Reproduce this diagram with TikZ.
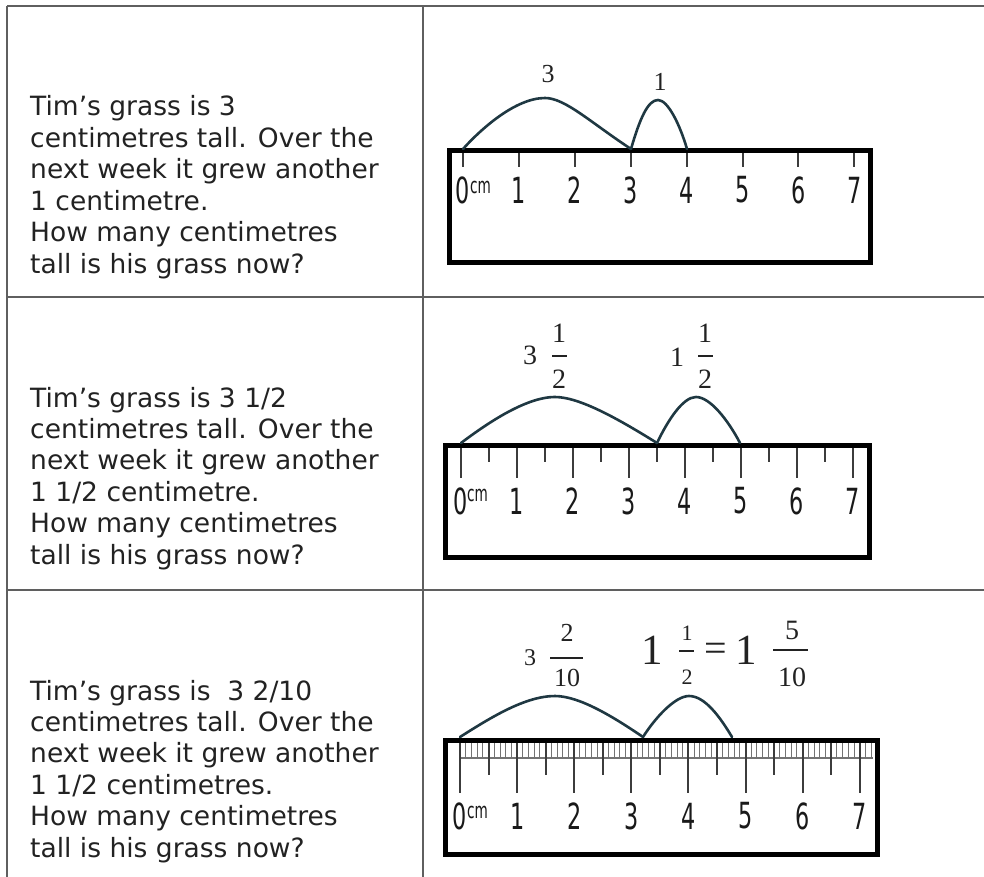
\documentclass[tikz,border=0pt]{standalone}
\usepackage{fontspec}
\newfontfamily\verd{DejaVu Sans}
\newfontfamily\rul[FakeStretch=0.62]{DejaVu Sans}
\newfontfamily\labfont{Liberation Serif}
\definecolor{gridcol}{HTML}{5F5F5F}
\definecolor{txtcol}{HTML}{222222}
\definecolor{arccol}{HTML}{1F3842}
\definecolor{tickcol}{HTML}{3C3C3C}
\tikzset{
  gridline/.style={draw=gridcol, line width=1.6pt},
  qtext/.style={anchor=base west, inner sep=0pt, font=\verd\fontsize{26.5}{32}\selectfont, text=txtcol},
  rulerbox/.style={draw=black, line width=5pt},
  majortick/.style={draw=tickcol, line width=2pt},
  mmtick/.style={draw=black!55, line width=0.9pt},
  rnum/.style={inner sep=0pt, font=\rul\fontsize{36}{36}\selectfont, text=black!90},
  cmlab/.style={inner sep=0pt, anchor=north west, font=\rul\fontsize{22}{22}\selectfont, text=black!90},
  hop/.style={draw=arccol, line width=2.6pt, line cap=round, line join=round},
  lab/.style={inner sep=0pt, text=txtcol},
  fbar/.style={draw=txtcol, line width=1.3pt},
}
\begin{document}
\begin{tikzpicture}[x=1pt,y=-1pt]
\useasboundingbox (0,0) rectangle (984,877);
% table grid
\coordinate (gTL) at (7,6);
\coordinate (gTR) at (984,6);
\coordinate (gBL) at (7,877);
\coordinate (gCT) at (423,6);
\coordinate (gCB) at (423,877);
\coordinate (gR1L) at (7,297);
\coordinate (gR1R) at (984,297);
\coordinate (gR2L) at (7,590);
\coordinate (gR2R) at (984,590);
\draw[gridline] (gTL) -- (gTR);
\draw[gridline] (gTL) -- (gBL);
\draw[gridline] (gCT) -- (gCB);
\draw[gridline] (gR1L) -- (gR1R);
\draw[gridline] (gR2L) -- (gR2R);
% texts
\foreach \t [count=\i from 0] in {Tim’s grass is 3,centimetres tall. Over the,next week it grew another,1 centimetre.,How many centimetres,tall is his grass now?}
  \node[qtext] (ta\i) at (30,{116+31.4*\i}) {\t};
\foreach \t [count=\i from 0] in {Tim’s grass is 3 1/2,centimetres tall. Over the,next week it grew another,1 1/2 centimetre.,How many centimetres,tall is his grass now?}
  \node[qtext] (tb\i) at (30,{407+31.4*\i}) {\t};
\foreach \t [count=\i from 0] in {Tim’s grass is~ 3 2/10,centimetres tall. Over the,next week it grew another,1 1/2 centimetres.,How many centimetres,tall is his grass now?}
  \node[qtext] (tc\i) at (30,{700+31.4*\i}) {\t};

% ===== ruler 1 =====
\draw[rulerbox] (449.5,150.5) rectangle (870.5,262.5);
\foreach \k in {0,...,7} {
  \coordinate (ra\k) at ({463+55.9*\k},153);
  \draw[majortick] (ra\k) -- ++(0,14);
  \node[rnum] (ran\k) at ({463+55.9*\k},190) {\k};
}
\node[cmlab] (racm) at (470,181) {cm};
\coordinate (h1a) at (463,149);
\coordinate (h1b) at (631,149);
\coordinate (h1c) at (687,149);
\draw[hop] (h1a) .. controls (480,130) and (515,98) .. (545,98) .. controls (565,98) and (590,122) .. (h1b);
\draw[hop] (h1b) .. controls (640,118) and (648,100) .. (658,100) .. controls (668,100) and (680,125) .. (h1c);
\node[lab, font=\labfont\fontsize{26}{26}\selectfont] (la3) at (548,74) {3};
\node[lab, font=\labfont\fontsize{26}{26}\selectfont] (la1) at (660,82) {1};

% ===== ruler 2 =====
\draw[rulerbox] (445.5,445.5) rectangle (869.5,557.5);
\foreach \k in {0,...,7} {
  \coordinate (rb\k) at ({460.7+56*\k},448);
  \draw[majortick] (rb\k) -- ++(0,30);
  \node[rnum] (rbn\k) at ({460.7+56*\k},501) {\k};
}
\foreach \k in {0,...,6} {
  \coordinate (rbh\k) at ({460.7+56*(\k+0.5)},448);
  \draw[majortick] (rbh\k) -- ++(0,14);
}
\node[cmlab] (rbcm) at (467,489) {cm};
\coordinate (h2a) at (461,443);
\coordinate (h2b) at (657,443);
\coordinate (h2c) at (740,443);
\draw[hop] (h2a) .. controls (485,425) and (525,397) .. (555,397) .. controls (580,397) and (620,420) .. (h2b);
\draw[hop] (h2b) .. controls (668,420) and (683,397) .. (696,397) .. controls (710,397) and (728,420) .. (h2c);
\begin{scope}[every node/.style={lab, font=\labfont\fontsize{28}{28}\selectfont}]
\node (lb3) at (530,355) {3};
\node (lbn1) at (559,333) {1};
\node (lbd1) at (559,379) {2};
\node (lb1) at (677,357) {1};
\node (lbn2) at (705,333) {1};
\node (lbd2) at (705,379) {2};
\end{scope}
\draw[fbar] (552,356) -- (567,356);
\draw[fbar] (698,356) -- (713,356);

% ===== ruler 3 =====
\draw[rulerbox] (445.5,740.5) rectangle (877.5,854.5);
\foreach \m in {0,...,72} {
  \draw[mmtick] ({460+5.71*\m},743) -- ++(0,15);
}
\coordinate (mmL) at (460,758);
\coordinate (mmR) at (873,758);
\draw[mmtick, line width=1.5pt] (mmL) -- (mmR);
\foreach \k in {0,...,6} {
  \coordinate (rch\k) at ({460+57.1*(\k+0.5)},743);
  \draw[majortick] (rch\k) -- ++(0,32);
}
\foreach \k in {0,...,7} {
  \coordinate (rc\k) at ({460+57.1*\k},743);
  \draw[majortick] (rc\k) -- ++(0,50);
  \node[rnum] (rcn\k) at ({460+57.1*\k},816) {\k};
}
\node[cmlab] (rccm) at (467,806) {cm};
\coordinate (h3a) at (460,737);
\coordinate (h3b) at (643,737);
\coordinate (h3c) at (732,737);
\draw[hop] (h3a) .. controls (490,718) and (525,696) .. (555,696) .. controls (580,696) and (615,718) .. (h3b);
\draw[hop] (h3b) .. controls (655,718) and (675,696) .. (689,696) .. controls (705,696) and (720,717) .. (h3c);
\node[lab, font=\labfont\fontsize{24}{24}\selectfont] (lc3) at (530,658) {3};
\node[lab, font=\labfont\fontsize{26}{26}\selectfont] (lcn1) at (567,633) {2};
\node[lab, font=\labfont\fontsize{26}{26}\selectfont] (lcd1) at (567,678) {10};
\draw[fbar] (550,658) -- (583,658);
\node[lab, font=\labfont\fontsize{43}{43}\selectfont] (lcb1) at (652,650) {1};
\node[lab, font=\labfont\fontsize{22}{22}\selectfont] (lcn2) at (687,633) {1};
\node[lab, font=\labfont\fontsize{22}{22}\selectfont] (lcd2) at (687,677) {2};
\draw[fbar] (679,651) -- (694,651);
\node[lab, font=\labfont\fontsize{40}{40}\selectfont] (lceq) at (716,652) {=};
\node[lab, font=\labfont\fontsize{43}{43}\selectfont] (lcb2) at (746,650) {1};
\node[lab, font=\labfont\fontsize{28}{28}\selectfont] (lcn3) at (792,630) {5};
\node[lab, font=\labfont\fontsize{28}{28}\selectfont] (lcd3) at (792,677) {10};
\draw[fbar] (773,650) -- (808,650);
\end{tikzpicture}
\end{document}
